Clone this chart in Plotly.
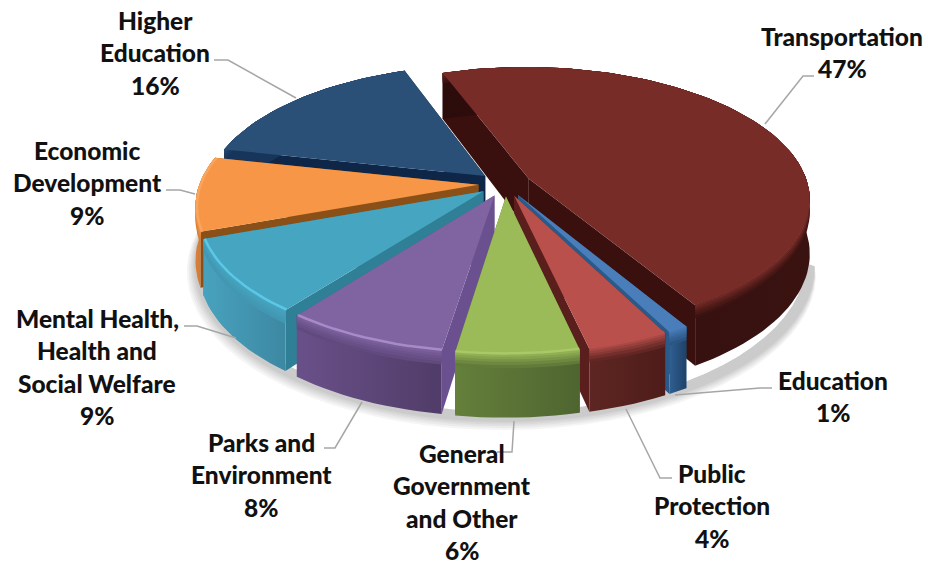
import math
import plotly.graph_objects as go

# Budget shares, clockwise from the start of the first slice
categories = ["Transportation", "Education", "Public Protection",
              "General Government and Other", "Parks and Environment",
              "Mental Health, Health and Social Welfare",
              "Economic Development", "Higher Education"]
shares = [47, 1, 4, 6, 8, 9, 9, 16]
label_lines = [["Transportation"], ["Education"], ["Public", "Protection"],
               ["General", "Government", "and Other"], ["Parks and", "Environment"],
               ["Mental Health,", "Health and", "Social Welfare"],
               ["Economic", "Development"], ["Higher", "Education"]]
label_x = [842, 833, 712, 462, 261, 97, 87, 155]
label_y = [36, 380, 473, 453, 442, 318, 150, 20]
leaders = [[(765, 124), (803, 76), (814, 76)], [(675, 395), (760, 388), (772, 388)],
           [(626, 409), (660, 478), (672, 478)], [(514, 421), (512, 452), (497, 452)],
           [(362, 402), (335, 448), (324, 448)], [(236, 338), (197, 326), (184, 326)],
           [(195, 194), (180, 190), (166, 190)], [(296, 98), (228, 60), (214, 60)]]

top_colors = ["#772c28", "#4a7ebb", "#b9504c", "#9bbb59", "#8064a2", "#46a6c2", "#f79646", "#2a5078"]
wall_left = ["#2c0c0b", "#2f5f92", "#5e2622", "#64803b", "#6a5089", "#48a2bd", "#d9803a", "#17355a"]
wall_right = ["#3a1311", "#1f4268", "#4e1c1a", "#4f6530", "#503c68", "#3d88a3", "#c06f2a", "#17355a"]
cut_colors = ["#3a100e", "#2a5a8a", "#5a1f1c", "#566e30", "#6b5090", "#2f7f96", "#8a5018", "#0e2748"]
rim_colors = ["#772c28", "#4a7ebb", "#b9504c", "#a9c868", "#a68bc8", "#5cc8e6", "#f9a55e", "#2a5078"]

# Projection of the tilted disc onto the page
CX, CY = 505, 184
RX, RY = 279, 130
PERSP = 0.15
DEPTH = 53
EXPLODE = 0.095
START = -20


def project(r, theta, mid, drop=0.0):
    """Page position of a point at radius r and angle theta on a slice pulled along mid."""
    a, m = math.radians(theta), math.radians(mid)
    gx = r * math.sin(a) + EXPLODE * math.sin(m)
    gy = r * math.cos(a) + EXPLODE * math.cos(m)
    s = 1 / (1 + PERSP * gy)
    return CX + RX * gx * s, CY - RY * gy * s + DEPTH * drop * s


def mix(c1, c2, t):
    p = [int(c1[i:i + 2], 16) for i in (1, 3, 5)]
    q = [int(c2[i:i + 2], 16) for i in (1, 3, 5)]
    return "#%02x%02x%02x" % tuple(round(a + (b - a) * t) for a, b in zip(p, q))


fig = go.Figure()


def polygon(points, color=None, gradient=None):
    xs, ys = zip(*points)
    kw = {"fillgradient": dict(type="horizontal", colorscale=[[0, gradient[0]], [1, gradient[1]]])} if gradient \
        else {"fillcolor": color}
    fig.add_trace(go.Scatter(x=list(xs) + [xs[0]], y=list(ys) + [ys[0]], mode="lines", fill="toself",
                             line=dict(width=0), hoverinfo="skip", showlegend=False, **kw))


# Slice spans derived from the shares
spans = []
acc = START
for share in shares:
    sweep = share / sum(shares) * 360
    spans.append((acc, acc + sweep))
    acc += sweep

# Soft shadow under the front of the pie, tapering off at both ends
thetas = [100 + i * 4 for i in range(48)]
for grow in (0.05, 0.04, 0.03, 0.022, 0.014, 0.007):
    taper = [math.sin((t - 100) / 188 * math.pi) ** 0.7 for t in thetas]
    outer = [project(1 + grow * f, t, t, 1.04) for t, f in zip(thetas, taper)]
    inner = [project(0.97, t, t, 1.0) for t in thetas]
    polygon(outer + inner[::-1], color="rgba(110,110,110,0.07)")

# Painted back to front
order = [0, 7, 6, 1, 5, 2, 4, 3]
for i in order:
    a0, a1 = spans[i]
    mid = (a0 + a1) / 2
    n = max(6, int((a1 - a0) / 2))
    arc = [a0 + (a1 - a0) * j / n for j in range(n + 1)]

    # radial cut faces, then the curved wall, then the top
    for edge in (a0, a1):
        polygon([project(0, mid, mid), project(1, edge, mid),
                 project(1, edge, mid, 1), project(0, mid, mid, 1)], color=cut_colors[i])
    polygon([project(1, t, mid) for t in arc] + [project(1, t, mid, 1) for t in arc[::-1]],
            gradient=(wall_left[i], wall_right[i]) if math.cos(math.radians(mid)) < 0.5
            else (wall_right[i], wall_left[i]))
    # blend from the top colour into the wall just under the rim
    base = mix(wall_left[i], wall_right[i], 0.5)
    band_edges = [0.22, 0.17, 0.12, 0.08, 0.04]
    for b, d in enumerate(band_edges):
        polygon([project(1, u, mid) for u in arc] + [project(1, u, mid, d) for u in arc[::-1]],
                color=mix(base, top_colors[i], 0.12 + b * 0.18))
    polygon([project(0, mid, mid)] + [project(1, t, mid) for t in arc], color=top_colors[i])
    rim = [project(0.995, t, mid, 0.0) for t in arc]
    if math.cos(math.radians(mid)) < 0.2:
        fig.add_trace(go.Scatter(x=[p[0] for p in rim], y=[p[1] for p in rim], mode="lines",
                                 line=dict(color=rim_colors[i], width=2.5), hoverinfo="skip",
                                 showlegend=False))

# Leader lines
for path in leaders:
    fig.add_trace(go.Scatter(x=[p[0] for p in path], y=[p[1] for p in path], mode="lines",
                             line=dict(color="#a6a6a6", width=1.5), hoverinfo="skip", showlegend=False))

# Labels, one annotation per line so the leading stays even
LEADING = 32.5
for lines, share, x, y in zip(label_lines, shares, label_x, label_y):
    for k, text in enumerate(lines + [f"{share}%"]):
        fig.add_annotation(x=x, y=y + k * LEADING, text=text, showarrow=False,
                           xanchor="center", yanchor="middle",
                           font=dict(family="Lato", size=24.5, color="#111111", weight=900))

fig.update_layout(width=928, height=565, margin=dict(l=0, r=0, t=0, b=0),
                  paper_bgcolor="white", plot_bgcolor="white", showlegend=False,
                  xaxis=dict(range=[0, 928], visible=False, fixedrange=True),
                  yaxis=dict(range=[565, 0], visible=False, fixedrange=True))
fig.write_html("out.html", config=dict(displayModeBar=False))
